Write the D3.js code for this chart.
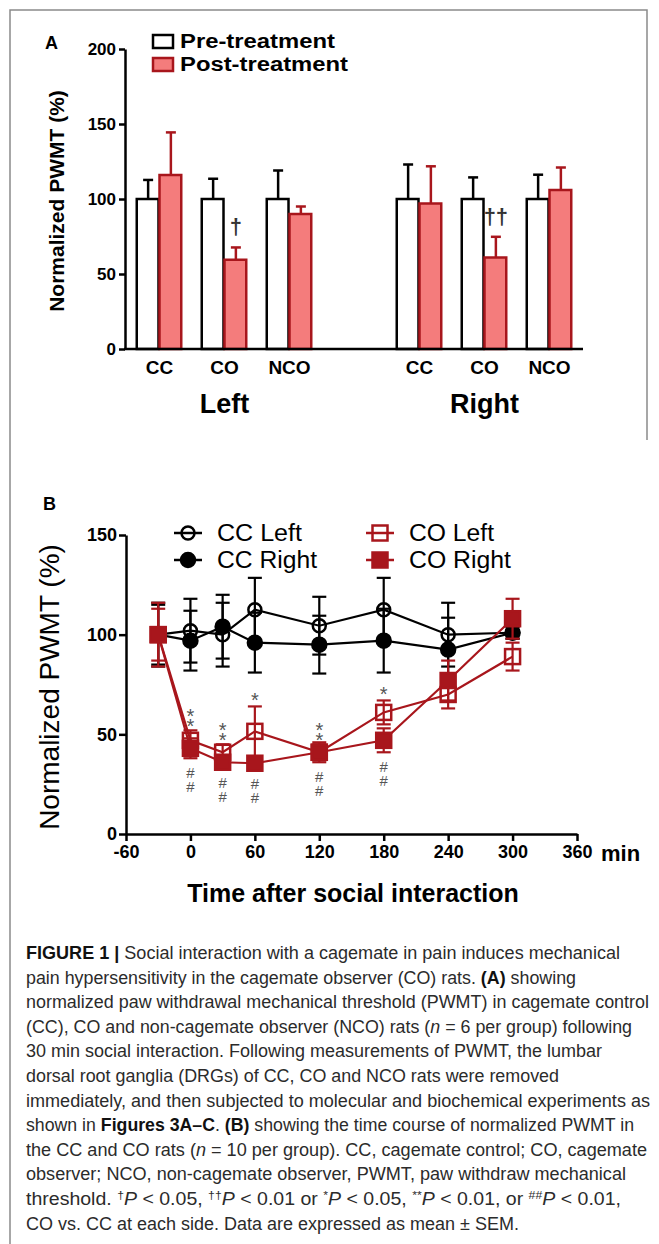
<!DOCTYPE html>
<html>
<head>
<meta charset="utf-8">
<script src="https://cdn.jsdelivr.net/npm/d3@7"></script>
<style>
  body { margin: 0; background: #fff; }
  svg text { font-family: "Liberation Sans", Arial, Helvetica, sans-serif; }
  svg text.stack { writing-mode: vertical-rl; text-orientation: upright; }
</style>
</head>
<body>
<svg id="fig" width="659" height="1244"></svg>
<script>
// ---- Panel A data: normalized PWMT (%) before / after treatment
var barGroups = ['CC', 'CO', 'NCO'];
var preMeanLeft = [100, 100, 100];
var preErrLeft = [12.7, 13.5, 19];
var postMeanLeft = [116, 59.5, 90];
var postErrLeft = [28.4, 8.2, 5];
var preMeanRight = [100, 100, 100];
var preErrRight = [23, 14.4, 16.2];
var postMeanRight = [97, 61, 106];
var postErrRight = [24.8, 13.8, 15];
var daggerLeft = ['', '\u2020', ''];
var daggerRight = ['', '\u2020\u2020', ''];
var yTicksA = [0, 50, 100, 150, 200];

// ---- Panel B data: time course (min after social interaction)
var times = [-30, 0, 30, 60, 120, 180, 240, 300];
var ccLeft = [100, 102, 100, 112.5, 104.5, 112.5, 100, 101];
var ccLeftErr = [16, 16, 16, 16, 14.5, 16, 16, 3];
var ccRight = [100, 97, 104, 96, 95, 97, 92.5, 101];
var ccRightErr = [15, 15, 16, 15, 14.5, 16, 16, 3];
var coLeft = [100, 47, 41, 51.5, 41, 61, 70, 89];
var coLeftErr = [13, 5, 4, 12.5, 4, 6, 7, 7];
var coRight = [100, 43, 36, 35.5, 41, 47, 77, 108];
var coRightErr = [16, 5, 3, 3, 5, 6, 10, 10];
var sigTimes = [0, 30, 60, 120, 180];
var starMarks = ['**', '**', '*', '**', '*'];
var hashMarks = ['##', '##', '##', '##', '##'];
var xTicksB = [-60, 0, 60, 120, 180, 240, 300, 360];
var yTicksB = [0, 50, 100, 150];

// ---- Caption, one entry per printed line: [text, style]
var captionLines = [
  [['FIGURE 1 | ', 'b'], ['Social interaction with a cagemate in pain induces mechanical', '']],
  [['pain hypersensitivity in the cagemate observer (CO) rats. ', ''], ['(A)', 'b'], [' showing', '']],
  [['normalized paw withdrawal mechanical threshold (PWMT) in cagemate control', '']],
  [['(CC), CO and non-cagemate observer (NCO) rats (', ''], ['n', 'i'], [' = 6 per group) following', '']],
  [['30 min social interaction. Following measurements of PWMT, the lumbar', '']],
  [['dorsal root ganglia (DRGs) of CC, CO and NCO rats were removed', '']],
  [['immediately, and then subjected to molecular and biochemical experiments as', '']],
  [['shown in ', ''], ['Figures 3A\u2013C', 'b'], ['. ', ''], ['(B)', 'b'], [' showing the time course of normalized PWMT in', '']],
  [['the CC and CO rats (', ''], ['n', 'i'], [' = 10 per group). CC, cagemate control; CO, cagemate', '']],
  [['observer; NCO, non-cagemate observer, PWMT, paw withdraw mechanical', '']],
  [['threshold. ', ''], ['\u2020', 'sup'], ['P', 'i'], [' < 0.05, ', ''], ['\u2020\u2020', 'sup'], ['P', 'i'], [' < 0.01 or ', ''],
   ['*', 'sup'], ['P', 'i'], [' < 0.05, ', ''], ['**', 'sup'], ['P', 'i'], [' < 0.01, or ', ''], ['##', 'sup'], ['P', 'i'], [' < 0.01,', '']],
  [['CO vs. CC at each side. Data are expressed as mean \u00b1 SEM.', '']]
];
var captionRight = [620, 576, 649, 632, 602, 559, 650, 634, 647, 626, 621, 519];

var RED = '#a8161c';
var RED_FILL = '#f47c7c';

var svg = d3.select('#fig');

// frame round the figure
svg.append('path')
    .attr('d', 'M10,1244 L10,10 L647,10 L647,440')
    .attr('fill', 'none')
    .attr('stroke', '#8a8a8a')
    .attr('stroke-width', 1.5);

drawPanelA();
drawPanelB();
drawCaption();

function drawPanelA() {
    var g = svg.append('g');
    var yA = d3.scaleLinear().domain([0, 200]).range([349, 49]);
    var slots = ['CC-Left', 'CO-Left', 'NCO-Left', 'gap', 'CC-Right', 'CO-Right', 'NCO-Right'];
    var x0 = d3.scaleBand().domain(slots).range([127, 582]).paddingInner(0.3).paddingOuter(0.15);
    var x1 = d3.scaleBand().domain(['pre', 'post']).range([0, x0.bandwidth()]);

    var rows = [];
    [['Left', preMeanLeft, preErrLeft, postMeanLeft, postErrLeft, daggerLeft],
     ['Right', preMeanRight, preErrRight, postMeanRight, postErrRight, daggerRight]].forEach(function(s) {
        barGroups.forEach(function(grp, i) {
            rows.push({ slot: grp + '-' + s[0], group: grp, side: s[0],
                        pre: s[1][i], preErr: s[2][i], post: s[3][i], postErr: s[4][i], mark: s[5][i] });
        });
    });

    var bars = [];
    rows.forEach(function(r) {
        bars.push({ slot: r.slot, key: 'pre', v: r.pre, e: r.preErr });
        bars.push({ slot: r.slot, key: 'post', v: r.post, e: r.postErr });
    });

    // error bars first (upper only), bars drawn on top
    var eb = g.selectAll('g.errA').data(bars).enter().append('g')
        .attr('class', 'errA')
        .attr('stroke', function(d) { return d.key === 'pre' ? '#000' : RED; })
        .attr('stroke-width', 2.5);
    eb.append('line')
        .attr('x1', function(d) { return x0(d.slot) + x1(d.key) + x1.bandwidth() / 2; })
        .attr('x2', function(d) { return x0(d.slot) + x1(d.key) + x1.bandwidth() / 2; })
        .attr('y1', function(d) { return yA(d.v); })
        .attr('y2', function(d) { return yA(d.v + d.e); });
    eb.append('line')
        .attr('x1', function(d) { return x0(d.slot) + x1(d.key) + x1.bandwidth() / 2 - 5; })
        .attr('x2', function(d) { return x0(d.slot) + x1(d.key) + x1.bandwidth() / 2 + 5; })
        .attr('y1', function(d) { return yA(d.v + d.e); })
        .attr('y2', function(d) { return yA(d.v + d.e); });

    g.selectAll('rect.barA').data(bars).enter().append('rect')
        .attr('class', 'barA')
        .attr('x', function(d) { return x0(d.slot) + x1(d.key); })
        .attr('y', function(d) { return yA(d.v); })
        .attr('width', x1.bandwidth() - 1)
        .attr('height', function(d) { return yA(0) - yA(d.v); })
        .attr('fill', function(d) { return d.key === 'pre' ? '#fff' : RED_FILL; })
        .attr('stroke', function(d) { return d.key === 'pre' ? '#000' : RED; })
        .attr('stroke-width', 2.5);

    // significance daggers
    g.selectAll('text.dag').data(rows.filter(function(r) { return r.mark; })).enter().append('text')
        .attr('class', 'dag')
        .attr('x', function(d) { return x0(d.slot) + x1('post') + x1.bandwidth() / 2; })
        .attr('y', function(d) { return yA(d.post + d.postErr) - 13; })
        .attr('text-anchor', 'middle')
        .attr('font-size', 22)
        .attr('font-weight', 'bold')
        .attr('fill', '#333')
        .text(function(d) { return d.mark; });

    // axes
    var ax = g.append('g')
        .attr('transform', 'translate(125,0)')
        .call(d3.axisLeft(yA).tickValues(yTicksA).tickSize(6).tickSizeOuter(0).tickPadding(3));
    ax.selectAll('path, line').attr('stroke', '#000').attr('stroke-width', 2.5);
    ax.selectAll('text').attr('font-size', 17).attr('font-weight', 'bold').attr('fill', '#000')
        .style('font-family', '"Liberation Sans", Arial, sans-serif');

    g.append('line')
        .attr('x1', 124).attr('x2', x0.range()[1] + 1)
        .attr('y1', yA(0)).attr('y2', yA(0))
        .attr('stroke', '#000').attr('stroke-width', 2.5);

    g.selectAll('text.grpA').data(rows).enter().append('text')
        .attr('class', 'grpA')
        .attr('x', function(d) { return x0(d.slot) + x0.bandwidth() / 2; })
        .attr('y', 374)
        .attr('text-anchor', 'middle')
        .attr('font-size', 19)
        .attr('font-weight', 'bold')
        .text(function(d) { return d.group; });

    g.selectAll('text.sideA').data(['Left', 'Right']).enter().append('text')
        .attr('class', 'sideA')
        .attr('x', function(d) { return x0('CO-' + d) + x0.bandwidth() / 2; })
        .attr('y', 413)
        .attr('text-anchor', 'middle')
        .attr('font-size', 27)
        .attr('font-weight', 'bold')
        .text(function(d) { return d; });

    g.append('text')
        .attr('transform', 'translate(64,201) rotate(-90)')
        .attr('text-anchor', 'middle')
        .attr('font-size', 21)
        .attr('font-weight', 'bold')
        .text('Normalized PWMT (%)');

    g.append('text').attr('x', 45).attr('y', 49)
        .attr('font-size', 18).attr('font-weight', 'bold').text('A');

    // legend
    var leg = g.selectAll('g.legA').data(['Pre-treatment', 'Post-treatment']).enter().append('g')
        .attr('class', 'legA')
        .attr('transform', function(d, i) { return 'translate(153,' + (35 + i * 23) + ')'; });
    leg.append('rect')
        .attr('width', 20).attr('height', 13)
        .attr('fill', function(d, i) { return i === 0 ? '#fff' : RED_FILL; })
        .attr('stroke', function(d, i) { return i === 0 ? '#000' : RED; })
        .attr('stroke-width', 2.5);
    leg.append('text')
        .attr('x', 27).attr('y', 13)
        .attr('font-size', 20).attr('font-weight', 'bold')
        .attr('textLength', function(d, i) { return i === 0 ? 155 : 168; })
        .attr('lengthAdjust', 'spacingAndGlyphs')
        .text(function(d) { return d; });
} // drawPanelA()

function drawPanelB() {
    var g = svg.append('g');
    var xB = d3.scaleLinear().domain([-60, 360]).range([126, 577]);
    var yB = d3.scaleLinear().domain([0, 150]).range([834, 535]);

    var series = [
        { name: 'CC Left', mean: ccLeft, err: ccLeftErr, color: '#000', shape: 'circle', filled: false },
        { name: 'CC Right', mean: ccRight, err: ccRightErr, color: '#000', shape: 'circle', filled: true },
        { name: 'CO Left', mean: coLeft, err: coLeftErr, color: RED, shape: 'square', filled: false },
        { name: 'CO Right', mean: coRight, err: coRightErr, color: RED, shape: 'square', filled: true }
    ];
    series.forEach(function(s) {
        s.points = times.map(function(t, i) { return { t: t, v: s.mean[i], e: s.err[i] }; });
    });

    var line = d3.line().x(function(d) { return xB(d.t); }).y(function(d) { return yB(d.v); });

    // axes
    var ay = g.append('g')
        .attr('transform', 'translate(' + xB(-60) + ',0)')
        .call(d3.axisLeft(yB).tickValues(yTicksB).tickSize(7).tickSizeOuter(0).tickPadding(2));
    var axx = g.append('g')
        .attr('transform', 'translate(0,' + yB(0) + ')')
        .call(d3.axisBottom(xB).tickValues(xTicksB).tickSize(7).tickSizeOuter(0).tickPadding(4)
                .tickFormat(function(d) { return String(d); }));
    [ay, axx].forEach(function(a) {
        a.selectAll('path, line').attr('stroke', '#000').attr('stroke-width', 2.5);
        a.selectAll('text').attr('font-size', 18).attr('font-weight', 'bold').attr('fill', '#000')
            .style('font-family', '"Liberation Sans", Arial, sans-serif');
    });

    g.append('text').attr('x', 601).attr('y', 861)
        .attr('font-size', 22).attr('font-weight', 'bold').text('min');

    g.append('text')
        .attr('x', 353).attr('y', 902)
        .attr('text-anchor', 'middle')
        .attr('font-size', 25)
        .attr('font-weight', 'bold')
        .text('Time after social interaction');

    g.append('text')
        .attr('transform', 'translate(59,687) rotate(-90)')
        .attr('text-anchor', 'middle')
        .attr('font-size', 28)
        .text('Normalized PWMT (%)');

    g.append('text').attr('x', 43).attr('y', 510)
        .attr('font-size', 18).attr('font-weight', 'bold').text('B');

    // one group per series: line, error bars, markers
    var sg = g.selectAll('g.series').data(series).enter().append('g')
        .attr('class', 'series')
        .attr('stroke', function(d) { return d.color; });

    sg.append('path')
        .attr('d', function(d) { return line(d.points); })
        .attr('fill', 'none')
        .attr('stroke-width', 2.2);

    var eb = sg.selectAll('g.errB').data(function(d) { return d.points; }).enter().append('g')
        .attr('class', 'errB')
        .attr('stroke-width', 2.2);
    eb.append('line')
        .attr('x1', function(d) { return xB(d.t); }).attr('x2', function(d) { return xB(d.t); })
        .attr('y1', function(d) { return yB(d.v - d.e); }).attr('y2', function(d) { return yB(d.v + d.e); });
    [1, -1].forEach(function(sign) {
        eb.append('line')
            .attr('x1', function(d) { return xB(d.t) - 7; }).attr('x2', function(d) { return xB(d.t) + 7; })
            .attr('y1', function(d) { return yB(d.v + sign * d.e); })
            .attr('y2', function(d) { return yB(d.v + sign * d.e); });
    });

    sg.each(function(s) {
        drawMarkers(d3.select(this), s, s.points.map(function(p) { return [xB(p.t), yB(p.v)]; }));
    });

    // significance marks, set as vertical text: stars above CO Left, hashes below CO Right
    sigTimes.forEach(function(t, k) {
        var i = times.indexOf(t);
        var top = yB(coLeft[i] + coLeftErr[i]);
        var bottom = yB(coRight[i] - coRightErr[i]);
        g.append('text')
            .attr('class', 'stack')
            .attr('x', xB(t))
            .attr('y', top - 17 - 8 * (starMarks[k].length - 1))
            .attr('font-size', 20)
            .attr('letter-spacing', -12)
            .attr('fill', '#555')
            .text(starMarks[k]);
        g.append('text')
            .attr('class', 'stack')
            .attr('x', xB(t))
            .attr('y', bottom + 6)
            .attr('font-size', 15)
            .attr('letter-spacing', -3.5)
            .attr('fill', '#555')
            .text(hashMarks[k]);
    });

    // legend
    var legPos = [[188, 533], [188, 560], [380, 533], [380, 560]];
    var leg = g.selectAll('g.legB').data(series).enter().append('g')
        .attr('class', 'legB')
        .attr('stroke', function(d) { return d.color; });
    leg.append('line')
        .attr('x1', function(d, i) { return legPos[i][0] - 14; })
        .attr('x2', function(d, i) { return legPos[i][0] + 14; })
        .attr('y1', function(d, i) { return legPos[i][1]; })
        .attr('y2', function(d, i) { return legPos[i][1]; })
        .attr('stroke-width', 2.5);
    leg.each(function(s, i) { drawMarkers(d3.select(this), s, [legPos[i]]); });
    leg.append('text')
        .attr('x', function(d, i) { return legPos[i][0] + 29; })
        .attr('y', function(d, i) { return legPos[i][1] + 8; })
        .attr('stroke', 'none')
        .attr('font-size', 23)
        .attr('textLength', function(d, i) { return [85, 100, 85, 102][i]; })
        .attr('lengthAdjust', 'spacingAndGlyphs')
        .text(function(d) { return d.name; });
} // drawPanelB()

function drawMarkers(sel, s, pts) {
    if (s.shape === 'circle') {
        sel.selectAll(null).data(pts).enter().append('circle')
            .attr('cx', function(p) { return p[0]; })
            .attr('cy', function(p) { return p[1]; })
            .attr('r', s.filled ? 7 : 6.5)
            .attr('fill', s.filled ? s.color : 'none')
            .attr('stroke-width', 2.5);
    } else {
        sel.selectAll(null).data(pts).enter().append('rect')
            .attr('x', function(p) { return p[0] - 7.5; })
            .attr('y', function(p) { return p[1] - 7.5; })
            .attr('width', 15).attr('height', 15)
            .attr('fill', s.filled ? s.color : 'none')
            .attr('stroke-width', 2.5);
    }
} // drawMarkers()

function drawCaption() {
    var g = svg.append('g').attr('fill', '#2b2b2b');
    captionLines.forEach(function(segs, i) {
        var t = g.append('text')
            .attr('x', 26)
            .attr('y', 959 + i * 24.6)
            .attr('font-size', 17.5)
            .attr('textLength', captionRight[i] - 26)
            .attr('lengthAdjust', 'spacingAndGlyphs');
        var raised = false;
        segs.forEach(function(seg) {
            var ts = t.append('tspan').text(seg[0]);
            if (seg[1] === 'b') ts.attr('font-weight', 'bold').attr('fill', '#111');
            if (seg[1] === 'i') ts.attr('font-style', 'italic');
            if (seg[1] === 'sup') {
                ts.attr('font-size', 11).attr('dy', -6);
                raised = true;
            } else if (raised) {
                ts.attr('dy', 6);
                raised = false;
            }
        });
    });
} // drawCaption()
</script>
</body>
</html>
